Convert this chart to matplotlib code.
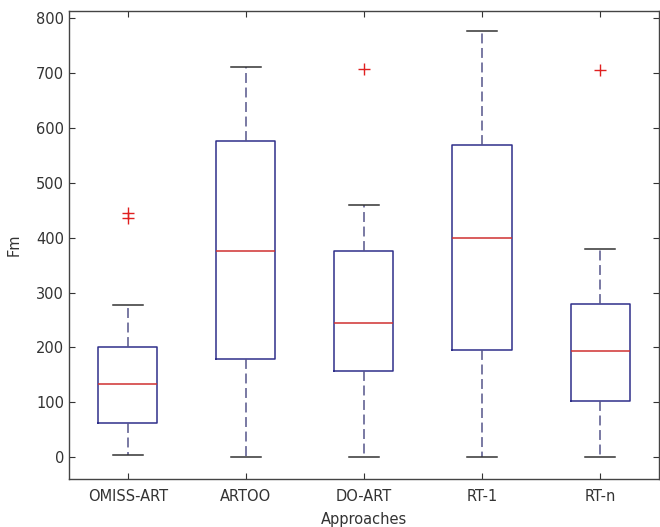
import matplotlib
matplotlib.use("Agg")
from matplotlib import pyplot as plt

# Approaches and box statistics
approaches = ["OMISS-ART", "ARTOO", "DO-ART", "RT-1", "RT-n"]
whisker_low = [3, 0, 0, 0, 0]
q1 = [62, 178, 157, 195, 103]
median = [133, 375, 245, 400, 193]
q3 = [200, 577, 375, 569, 279]
whisker_high = [277, 711, 460, 776, 380]
outliers = [[435, 445], [], [708], [], [706]]

plt.rcParams['font.family'] = ['DejaVu Sans']

stats = []
for name, lo, a, m, b, hi, fl in zip(approaches, whisker_low, q1, median, q3,
                                     whisker_high, outliers):
    stats.append(dict(label=name, whislo=lo, q1=a, med=m, q3=b,
                      whishi=hi, fliers=fl))

fig = plt.figure(figsize=(6.6, 5.27), dpi=100)
ax = fig.add_axes([0.1045, 0.091, 0.894, 0.888])

ax.bxp(stats, widths=0.5, showfliers=True,
       boxprops=dict(color='#2f2f8a', linewidth=1.1),
       medianprops=dict(color='#d03030', linewidth=1.1),
       whiskerprops=dict(color='#55558a', linewidth=1.1, linestyle=(0, (6.5, 3))),
       capprops=dict(color='#333333', linewidth=1.1),
       flierprops=dict(marker='+', markeredgecolor='#e02020', markersize=8,
                       markeredgewidth=1.0, linestyle='none'))

ax.set_xlim(0.5, 5.5)
ax.set_ylim(-40, 813)
ax.set_yticks(range(0, 801, 100))
ax.tick_params(direction='in', top=True, right=True, length=4,
               labelsize=10.5, colors='#333333', labelcolor='#333333')
ax.tick_params(axis='x', pad=7)
for s in ax.spines.values():
    s.set_color('#444444')
    s.set_linewidth(1.0)

ax.set_ylabel("Fm", fontsize=10.5, color='#333333', labelpad=10)
ax.set_xlabel("Approaches", fontsize=10.5, color='#333333', labelpad=6)

fig.savefig("out.png", dpi=100)
